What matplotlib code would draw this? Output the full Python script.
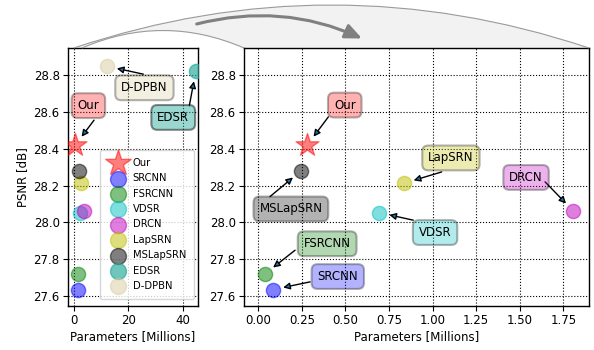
import matplotlib
matplotlib.use("Agg")
import matplotlib.pyplot as plt
from matplotlib.patches import PathPatch, FancyArrowPatch
from matplotlib.path import Path

# ---------------- data ----------------
models = ['Our', 'SRCNN', 'FSRCNN', 'VDSR', 'DRCN', 'LapSRN', 'MSLapSRN', 'EDSR', 'D-DPBN']
psnr = [28.42, 27.635, 27.72, 28.053, 28.062, 28.212, 28.28, 28.822, 28.848]
# parameters (millions) as placed in the zoomed (right) panel
params_zoom = [0.281, 0.084, 0.038, 0.693, 1.807, 0.834, 0.245, 44.8, 12.0]
# parameters (millions) as placed in the overview (left) panel
params_overview = [0.48, 1.6, 1.55, 2.2, 3.6, 2.5, 1.8, 44.8, 12.0]
colors = ['r', 'b', 'g', 'c', 'm', 'y', 'k', '#20a898', '#d9cb9e']
marker_alpha = [0.5, 0.5, 0.5, 0.5, 0.5, 0.5, 0.5, 0.65, 0.5]
box_alpha = [0.3, 0.3, 0.3, 0.3, 0.3, 0.3, 0.3, 0.45, 0.3]

yticks = [27.6, 27.8, 28.0, 28.2, 28.4, 28.6, 28.8]
xticks_left = [0, 20, 40]
xticks_right = [0.0, 0.25, 0.5, 0.75, 1.0, 1.25, 1.5, 1.75]

# label layout: (model, text x, text y, arrow start x, arrow start y)
labels_right = [
    ('Our', 0.496, 28.637, 0.402, 28.573),
    ('MSLapSRN', 0.187, 28.073, 0.067, 28.140),
    ('LapSRN', 1.105, 28.350, 1.052, 28.274),
    ('DRCN', 1.536, 28.244, 1.645, 28.220),
    ('VDSR', 1.014, 27.945, 0.889, 28.012),
    ('FSRCNN', 0.395, 27.884, 0.211, 27.849),
    ('SRCNN', 0.456, 27.706, 0.297, 27.677),
]
labels_left = [
    ('Our', 5.3, 28.634, 7.37, 28.555),
    ('D-DPBN', 25.9, 28.731, 25.5, 28.805),
    ('EDSR', 36.5, 28.570, 42.4, 28.633),
]

W, H = 594, 350
fig = plt.figure(figsize=(W / 100, H / 100), dpi=100)
plt.rcParams['font.family'] = ['DejaVu Sans']

ax1 = fig.add_axes([68 / W, 1 - 306 / H, 130 / W, 258 / H])
ax2 = fig.add_axes([244 / W, 1 - 306 / H, 345 / W, 258 / H])

FS = 8.5


def scatter_all(ax, xs):
    for i, m in enumerate(models):
        mk = '*' if m == 'Our' else 'o'
        s = 300 if m == 'Our' else 105
        ax.scatter(xs[i], psnr[i], s=s, marker=mk, c=colors[i],
                   alpha=marker_alpha[i], label=m, zorder=3)


def label_all(ax, labels, xs):
    for (m, tx, ty, sx, sy) in labels:
        i = models.index(m)
        ax.annotate('', xy=(xs[i], psnr[i]), xytext=(sx, sy),
                    arrowprops=dict(arrowstyle='-|>', shrinkA=0, shrinkB=7.5,
                                    fc='C0', ec='k', lw=1, mutation_scale=10),
                    zorder=4)
        ax.text(tx, ty, m, ha='center', va='center', fontsize=FS, zorder=5,
                bbox=dict(boxstyle='round,pad=0.5', fc=colors[i], ec='k',
                          alpha=box_alpha[i], lw=1.5))


scatter_all(ax1, params_overview)
scatter_all(ax2, params_zoom)
label_all(ax1, labels_left, params_overview)
label_all(ax2, labels_right, params_zoom)

for ax in (ax1, ax2):
    ax.set_ylim(27.546, 28.947)
    ax.set_yticks(yticks)
    ax.set_yticklabels(['%.1f' % v for v in yticks], fontsize=FS)
    ax.grid(True, linestyle=':', color='k', linewidth=0.8)
    ax.set_axisbelow(True)
    ax.set_xlabel('Parameters [Millions]', fontsize=FS, labelpad=2)
    ax.tick_params(direction='out', length=3.5, width=0.8, pad=2.5)
    for sp in ax.spines.values():
        sp.set_linewidth(1.0)

ax1.set_xlim(-2.2, 45.6)
ax1.set_xticks(xticks_left)
ax1.set_xticklabels([str(v) for v in xticks_left], fontsize=FS)
ax1.set_ylabel('PSNR [dB]', fontsize=FS, labelpad=3)

ax2.set_xlim(-0.082, 1.897)
ax2.set_xticks(xticks_right)
ax2.set_xticklabels(['%.2f' % v for v in xticks_right], fontsize=FS)

leg = ax1.legend(loc='lower right', bbox_to_anchor=(0.969, 0.027),
                 borderaxespad=0, fontsize=7.2, scatterpoints=1,
                 framealpha=0.8, borderpad=0.8, labelspacing=0.54,
                 handletextpad=0.5, markerscale=1.12)

# ---------- connecting band between the panels ----------
def P(x, y):
    return (x / W, 1 - y / H)

verts = [P(73.8, 48), P(331.4, -38), P(589, 48),
         P(244, 48),
         P(244, 48), P(163, 13), P(82, 48),
         P(73.8, 48)]
codes = [Path.MOVETO, Path.CURVE3, Path.CURVE3,
         Path.LINETO,
         Path.LINETO, Path.CURVE3, Path.CURVE3,
         Path.CLOSEPOLY]
band = PathPatch(Path(verts, codes), transform=fig.transFigure,
                 facecolor='#f2f2f2', edgecolor='none', zorder=0)
fig.add_artist(band)
for v in ([P(73.8, 48), P(331.4, -38), P(589, 48)],
          [P(244, 48), P(163, 13), P(82, 48)]):
    fig.add_artist(PathPatch(Path(v, [Path.MOVETO, Path.CURVE3, Path.CURVE3]),
                             transform=fig.transFigure, facecolor='none',
                             edgecolor='#9a9a9a', lw=0.8, zorder=1))

arrow = FancyArrowPatch(P(196.7, 24), P(362, 38.5), transform=fig.transFigure,
                        connectionstyle='arc3,rad=-0.175',
                        arrowstyle='-|>,head_length=0.5,head_width=0.22',
                        mutation_scale=20, color='#808080', lw=2.2,
                        shrinkA=0, shrinkB=0, zorder=2)
fig.add_artist(arrow)

fig.savefig('out.png', dpi=100)
